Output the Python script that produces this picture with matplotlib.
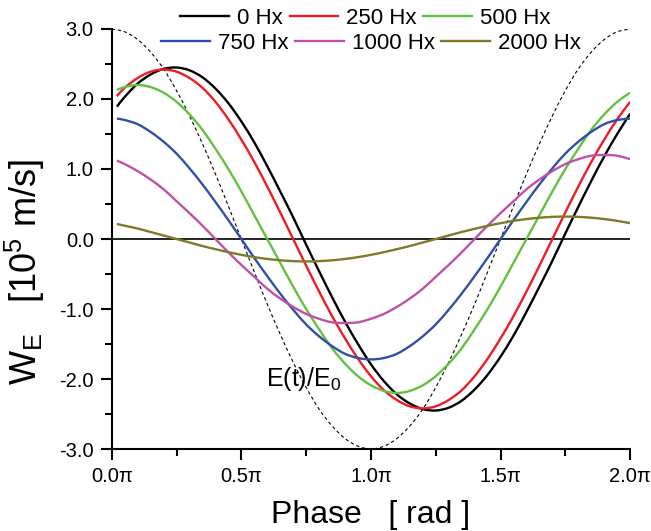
import numpy as np
import matplotlib
matplotlib.use("Agg")
import matplotlib.pyplot as plt
from matplotlib.ticker import MultipleLocator
from matplotlib.path import Path
from matplotlib.patches import PathPatch
from matplotlib.lines import Line2D

plt.rcParams['font.family'] = ['Liberation Sans', 'DejaVu Sans']
plt.rcParams['mathtext.fontset'] = 'custom'
plt.rcParams['mathtext.rm'] = 'Liberation Sans'
plt.rcParams['mathtext.it'] = 'Liberation Sans'
plt.rcParams['axes.unicode_minus'] = False

# phase in units of pi
phase_field = [round(0.05 * i, 2) for i in range(41)]
phase = [0.02] + phase_field[1:]

# E(t)/E0, scaled to the axis
field = [3.00, 2.96, 2.85, 2.67, 2.43, 2.12, 1.76, 1.36, 0.93, 0.47, 0.00,
         -0.47, -0.93, -1.36, -1.76, -2.12, -2.43, -2.67, -2.85, -2.96, -3.00,
         -2.96, -2.85, -2.67, -2.43, -2.12, -1.76, -1.36, -0.93, -0.47, 0.00,
         0.47, 0.93, 1.36, 1.76, 2.12, 2.43, 2.67, 2.85, 2.96, 3.00]

w_0 = [1.89, 2.03, 2.22, 2.35, 2.43, 2.45, 2.41, 2.31, 2.15, 1.94, 1.68,
       1.38, 1.04, 0.68, 0.31, -0.08, -0.46, -0.83, -1.18, -1.50, -1.79,
       -2.03, -2.22, -2.35, -2.43, -2.45, -2.41, -2.31, -2.15, -1.94, -1.68,
       -1.38, -1.04, -0.68, -0.31, 0.08, 0.46, 0.83, 1.18, 1.50, 1.79]
w_250 = [2.04, 2.16, 2.30, 2.39, 2.42, 2.39, 2.30, 2.16, 1.96, 1.71, 1.42,
         1.10, 0.75, 0.38, 0.00, -0.38, -0.75, -1.10, -1.42, -1.71, -1.96,
         -2.16, -2.30, -2.39, -2.42, -2.39, -2.30, -2.16, -1.96, -1.71, -1.42,
         -1.10, -0.75, -0.38, 0.00, 0.38, 0.75, 1.10, 1.42, 1.71, 1.96]
w_500 = [2.13, 2.17, 2.20, 2.17, 2.09, 1.96, 1.78, 1.56, 1.29, 1.00, 0.68,
         0.34, 0.00, -0.34, -0.68, -1.00, -1.29, -1.56, -1.78, -1.96, -2.09,
         -2.17, -2.20, -2.17, -2.09, -1.96, -1.78, -1.56, -1.29, -1.00, -0.68,
         -0.34, 0.00, 0.34, 0.68, 1.00, 1.29, 1.56, 1.78, 1.96, 2.09]
w_750 = [1.72, 1.70, 1.64, 1.53, 1.39, 1.22, 1.01, 0.78, 0.53, 0.27, 0.00,
         -0.27, -0.53, -0.78, -1.01, -1.22, -1.39, -1.53, -1.64, -1.70, -1.72,
         -1.70, -1.64, -1.53, -1.39, -1.22, -1.01, -0.78, -0.53, -0.27, 0.00,
         0.27, 0.53, 0.78, 1.01, 1.22, 1.39, 1.53, 1.64, 1.70, 1.72]
w_1000 = [1.12, 1.07, 0.97, 0.85, 0.71, 0.54, 0.37, 0.19, 0.00, -0.19, -0.37,
          -0.54, -0.71, -0.85, -0.97, -1.07, -1.14, -1.19, -1.20, -1.19, -1.14,
          -1.07, -0.97, -0.85, -0.71, -0.54, -0.37, -0.19, 0.00, 0.19, 0.37,
          0.54, 0.71, 0.85, 0.97, 1.07, 1.14, 1.19, 1.20, 1.19, 1.14]
w_2000 = [0.215, 0.190, 0.150, 0.100, 0.050, 0.000, -0.050, -0.100, -0.145, -0.188, -0.226,
          -0.259, -0.285, -0.304, -0.316, -0.320, -0.316, -0.304, -0.285, -0.259, -0.226,
          -0.188, -0.145, -0.100, -0.050, 0.000, 0.050, 0.100, 0.145, 0.188, 0.226,
          0.259, 0.285, 0.304, 0.316, 0.320, 0.316, 0.304, 0.285, 0.259, 0.226]

labels = ['0 Hx', '250 Hx', '500 Hx', '750 Hx', '1000 Hx', '2000 Hx']
series = [w_0, w_250, w_500, w_750, w_1000, w_2000]
colors = ['#000000', '#ee1c24', '#62c140', '#2f50a5', '#c050a8', '#7f7a28']


def smooth_path(x, y):
    # bezier segments passing through every read point (Catmull-Rom style)
    p = np.column_stack([x, y]).astype(float)
    n = len(p)
    verts = [p[0]]
    codes = [Path.MOVETO]
    for i in range(n - 1):
        p0 = p[i - 1] if i > 0 else p[i]
        p3 = p[i + 2] if i + 2 < n else p[i + 1]
        c1 = p[i] + (p[i + 1] - p0) / 6.0
        c2 = p[i + 1] - (p3 - p[i]) / 6.0
        verts += [c1, c2, p[i + 1]]
        codes += [Path.CURVE4] * 3
    return Path(verts, codes)


fig = plt.figure(figsize=(6.51, 5.31), dpi=100)
ax = fig.add_axes([0.1716, 0.1544, 0.7964, 0.7910])

ax.axhline(0, color='black', lw=1.2, zorder=1)
ax.add_patch(PathPatch(smooth_path(phase_field, field), fill=False,
                       edgecolor='black', lw=0.8, ls=(0, (3, 2.5)), zorder=2))

handles = []
for vals, col, lab in zip(series, colors, labels):
    ax.add_patch(PathPatch(smooth_path(phase, vals), fill=False,
                           edgecolor=col, lw=1.7, zorder=3))
    handles.append(Line2D([], [], color=col, lw=1.7))

ax.text(0.595, -2.0, r'E(t)/E$_0$', fontsize=18, ha='left', va='center')

ax.set_xlim(0, 2)
ax.set_ylim(-3, 3)
ax.xaxis.set_major_locator(MultipleLocator(0.5))
ax.xaxis.set_minor_locator(MultipleLocator(0.25))
ax.yaxis.set_major_locator(MultipleLocator(1.0))
ax.yaxis.set_minor_locator(MultipleLocator(0.5))
ax.xaxis.set_major_formatter(plt.FuncFormatter(lambda v, p: f'{v:.1f}\u03c0'))
ax.yaxis.set_major_formatter(plt.FuncFormatter(lambda v, p: f'{v:.1f}'))

for s in ['top', 'right']:
    ax.spines[s].set_visible(False)
for s in ['left', 'bottom']:
    ax.spines[s].set_linewidth(1.5)
ax.tick_params(which='major', direction='out', length=8, width=1.5,
               labelsize=14.5, pad=5)
ax.tick_params(which='minor', direction='out', length=5, width=1.5)

ax.set_xlabel('Phase   [ rad ]', fontsize=23, labelpad=10)
ax.set_ylabel(r'W$_{\rm E}$   [10$^5$ m/s]', fontsize=26)
ax.yaxis.set_label_coords(-0.125, 0.42)

kw = dict(ncol=3, loc='center', frameon=False, fontsize=16,
          handlelength=2.2, handletextpad=0.35, columnspacing=0.3,
          borderpad=0)
fig.legend(handles[:3], labels[:3], bbox_to_anchor=(0.5615, 0.966), **kw)
fig.legend(handles[3:], labels[3:], bbox_to_anchor=(0.570, 0.919), **kw)

fig.savefig('out.png', dpi=100)
